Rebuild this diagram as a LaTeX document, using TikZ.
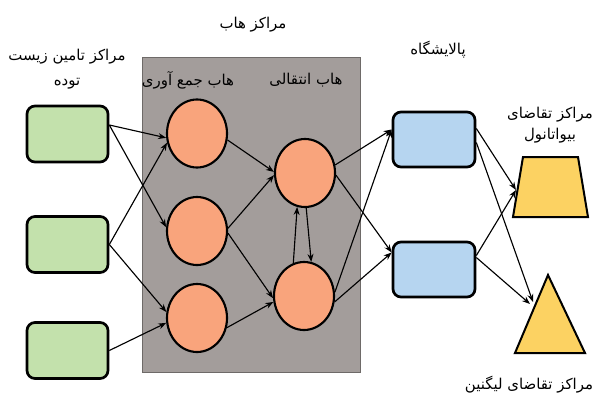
\documentclass[tikz,border=0pt]{standalone}
\usepackage{fontspec}
\newfontfamily\arabicfont[Script=Arabic]{DejaVu Sans}
\TeXXeTstate=1
\usetikzlibrary{shapes.geometric,arrows.meta,calc}
\definecolor{hubgray}{RGB}{163,157,155}
\definecolor{hubedge}{RGB}{110,106,104}
\definecolor{supgreen}{RGB}{195,225,172}
\definecolor{huborange}{RGB}{249,164,124}
\definecolor{refblue}{RGB}{182,213,240}
\definecolor{demgold}{RGB}{252,210,98}
\newcommand\fatext[1]{\beginR #1\endR}
\begin{document}
\begin{tikzpicture}[x=0.75pt,y=-0.75pt,
  lbl/.style={font=\arabicfont\fontsize{11.2}{19}\selectfont, inner sep=0pt, align=center},
  supbox/.style={draw=black, line width=2pt, fill=supgreen, rounded corners=6pt, minimum width=60.75pt, minimum height=42pt, inner sep=0pt},
  hubnode/.style={ellipse, draw=black, line width=1.6pt, fill=huborange, minimum width=45pt, minimum height=51pt, inner sep=0pt},
  refbox/.style={draw=black, line width=2pt, fill=refblue, rounded corners=6pt, minimum width=61.5pt, minimum height=41.25pt, inner sep=0pt},
  demshape/.style={draw=black, line width=1.5pt, fill=demgold, line join=miter},
  flow/.style={-{Stealth[length=6pt,width=4.5pt]}, line width=0.85pt, black}]
\useasboundingbox (0,0) rectangle (596,396);
% hub background
\node[draw=hubedge, line width=0.6pt, fill=hubgray, minimum width=163.5pt, minimum height=236.25pt, inner sep=0pt] (hub) at (251,214.5) {};
% supply boxes
\node[supbox] (g1) at (67.5,134) {};
\node[supbox] (g2) at (67.5,244.5) {};
\node[supbox] (g3) at (67.5,350.5) {};
% collection hubs
\node[hubnode] (c1) at (197,133.5) {};
\node[hubnode] (c2) at (197,231) {};
\node[hubnode] (c3) at (197,318) {};
% transfer hubs
\node[hubnode] (t1) at (305,173) {};
\node[hubnode] (t2) at (304,296) {};
% refineries
\node[refbox] (b1) at (434,139.5) {};
\node[refbox] (b2) at (434,269.5) {};
% demand shapes
\draw[demshape] (523,157) -- (578,157) -- (588,217) -- (513,217) -- cycle;
\coordinate (trapL) at (516,190);
\draw[demshape] (548,275) -- (585,353) -- (515,353) -- cycle;
\coordinate (triA) at (533,302);
\coordinate (triB) at (530,304);
% labels
\node[lbl] (lhub) at (253,25) {\fatext{مراکز هاب}};
\node[lbl, font=\arabicfont\fontsize{11.2}{18.75}\selectfont] (lsup) at (67,69) {\fatext{مراکز تامین زیست}\\\fatext{توده}};
\node[lbl] (lcol) at (188,80) {\fatext{هاب جمع آوری}};
\node[lbl] (ltra) at (306,80) {\fatext{هاب انتقالی}};
\node[lbl] (lref) at (438,50) {\fatext{پالایشگاه}};
\node[lbl, font=\arabicfont\fontsize{11.2}{16}\selectfont] (lbio) at (550,125) {\fatext{مراکز تقاضای}\\\fatext{بیواتانول}};
\node[lbl] (llig) at (529,385) {\fatext{مراکز تقاضای لیگنین}};
% flows supply -> collection
\draw[flow] ($(g1.east)+(0,-9)$) -- (c1.188);
\draw[flow] ($(g1.east)+(0,-9)$) -- (c2.173);
\draw[flow] (g2.east) -- (c1.197);
\draw[flow] (g2.east) -- (c3.169);
\draw[flow] (g3.east) -- (c3.189);
% collection -> transfer
\draw[flow] (c1.-12) -- (t1.178);
\draw[flow] (c2.5) -- (t1.184);
\draw[flow] (c2.-4) -- (t2.184);
\draw[flow] (c3.-18) -- (t2.191);
% between transfer hubs
\draw[flow] (t2.108) -- (t1.257);
\draw[flow] (t1.-88) -- (t2.78);
% transfer -> refineries
\draw[flow] (t1.15) -- ($(b1.west)+(0,-10)$);
\draw[flow] (t1.-4) -- ($(b2.west)+(0,-17)$);
\draw[flow] (t2.7) -- ($(b1.west)+(0,-10)$);
\draw[flow] (t2.-11) -- ($(b2.west)+(0,-17)$);
% refineries -> demand
\draw[flow] ($(b1.east)+(0,-11)$) -- (trapL);
\draw[flow] ($(b1.east)+(0,3)$) -- (triA);
\draw[flow] ($(b2.east)+(0,-14)$) -- (trapL);
\draw[flow] ($(b2.east)+(0,-12)$) -- (triB);
\end{tikzpicture}
\end{document}
